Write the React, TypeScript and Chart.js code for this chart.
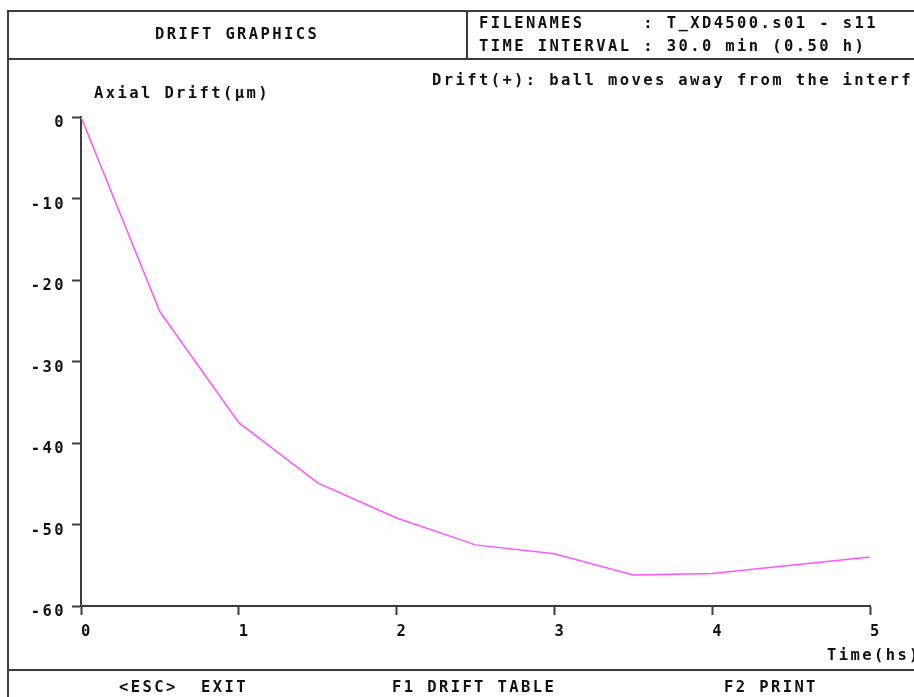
import React, { useEffect, useRef } from "react";
import { Chart, registerables } from "chart.js";

Chart.register(...registerables);

// ---- data ----
const timeHours = [0, 0.5, 1, 1.5, 2, 2.5, 3, 3.5, 4, 4.5, 5];
const axialDrift = [0, -23.9, -37.5, -44.9, -49.2, -52.5, -53.6, -56.2, -56.0, -55.0, -54.0];
const yTickValues = [0, -10, -20, -30, -40, -50, -60];
const xTickValues = [0, 1, 2, 3, 4, 5];

const headerTitle = "DRIFT GRAPHICS";
const headerLine1 = "FILENAMES     : T_XD4500.s01 - s11";
const headerLine2 = "TIME INTERVAL : 30.0 min (0.50 h)";
const yAxisTitle = "Axial Drift(\u03bcm)";
const xAxisTitle = "Time(hs)";
const noteText = "Drift(+): ball moves away from the interf";
const footerItems = ["<ESC>  EXIT", "F1 DRIFT TABLE", "F2 PRINT"];

const FONT_FAMILY = '"DejaVu Sans Mono", "Liberation Mono", monospace';
const FONT_SIZE = 15.5;
const LETTER_SPACING = "2.4px";
const LINE_COLOR = "#3c3c3c";
const TEXT_COLOR = "#111111";

const annotationPlugin = {
  id: "annotations",
  beforeDraw(chart: any) {
    (chart.ctx as any).letterSpacing = LETTER_SPACING;
  },
  afterDraw(chart: any) {
    const ctx = chart.ctx;
    ctx.save();
    (ctx as any).letterSpacing = LETTER_SPACING;
    ctx.font = `bold ${FONT_SIZE}px ${FONT_FAMILY}`;
    ctx.fillStyle = TEXT_COLOR;
    ctx.textAlign = "left";
    ctx.textBaseline = "alphabetic";
    ctx.fillText(yAxisTitle, 94, 98);
    ctx.fillText(noteText, 432, 84.5);
    ctx.fillText(xAxisTitle, 827, 660);
    ctx.restore();
  },
};

function Line({ l, t, w, h }: { l: number; t: number; w: number; h: number }) {
  return (
    <div
      style={{ position: "absolute", left: l, top: t, width: w, height: h, background: LINE_COLOR }}
    />
  );
}

function Txt({ l, t, s }: { l: number; t: number; s: string }) {
  return (
    <div
      style={{
        position: "absolute",
        left: l,
        top: t,
        lineHeight: "15px",
        whiteSpace: "pre",
      }}
    >
      {s}
    </div>
  );
}

export default function App() {
  const canvasRef = useRef<HTMLCanvasElement | null>(null);

  useEffect(() => {
    if (!canvasRef.current) return;
    const points = timeHours.map((t, i) => ({ x: t, y: axialDrift[i] }));
    const tickFont = { family: FONT_FAMILY, size: FONT_SIZE, weight: "bold" as const };
    const chart = new Chart(canvasRef.current, {
      type: "line",
      data: {
        datasets: [
          {
            label: "Axial Drift",
            data: points,
            borderColor: "#ff55ff",
            borderWidth: 1.5,
            pointRadius: 0,
            tension: 0,
            fill: false,
          },
        ],
      },
      options: {
        animation: false,
        responsive: false,
        devicePixelRatio: 1,
        layout: { padding: { top: 117, right: 44, left: 0, bottom: 0 } },
        plugins: {
          legend: { display: false },
          title: { display: false },
          tooltip: { enabled: false },
        },
        scales: {
          x: {
            type: "linear",
            min: 0,
            max: 5,
            afterFit: (s: any) => {
              s.height = 91;
            },
            afterBuildTicks: (s: any) => {
              s.ticks = xTickValues.map((v) => ({ value: v }));
            },
            border: { display: true, color: LINE_COLOR, width: 2 },
            grid: {
              display: true,
              drawOnChartArea: false,
              drawTicks: true,
              tickLength: 9,
              tickWidth: 2,
              tickColor: LINE_COLOR,
            },
            ticks: {
              font: tickFont,
              color: TEXT_COLOR,
              align: "start",
              padding: 8,
              labelOffset: 0,
              maxRotation: 0,
              autoSkip: false,
              callback: (v: any) => String(v),
            },
          },
          y: {
            type: "linear",
            min: -60,
            max: 0,
            afterFit: (s: any) => {
              s.width = 81;
            },
            afterBuildTicks: (s: any) => {
              s.ticks = yTickValues.map((v) => ({ value: v }));
            },
            border: { display: true, color: LINE_COLOR, width: 2 },
            grid: {
              display: true,
              drawOnChartArea: false,
              drawTicks: true,
              tickLength: 9,
              tickWidth: 2,
              tickColor: LINE_COLOR,
            },
            ticks: {
              font: tickFont,
              color: TEXT_COLOR,
              padding: 6,
              labelOffset: 6,
              autoSkip: false,
              callback: (v: any) => String(v),
            },
          },
        },
      },
      plugins: [annotationPlugin],
    });
    return () => chart.destroy();
  }, []);

  return (
    <div
      style={{
        position: "fixed",
        left: 0,
        top: 0,
        width: 914,
        height: 697,
        overflow: "hidden",
        background: "#ffffff",
        fontFamily: FONT_FAMILY,
        fontWeight: "bold",
        fontSize: FONT_SIZE,
        letterSpacing: LETTER_SPACING,
        color: TEXT_COLOR,
      }}
    >
      <canvas
        ref={canvasRef}
        width={914}
        height={697}
        style={{ position: "absolute", left: 0, top: 0, width: 914, height: 697 }}
      />
      <Line l={7} t={10} w={907} h={2} />
      <Line l={7} t={10} w={2} h={687} />
      <Line l={466} t={10} w={2} h={49} />
      <Line l={7} t={58} w={907} h={2} />
      <Line l={7} t={669} w={907} h={2} />
      <Txt l={155} t={26.8} s={headerTitle} />
      <Txt l={479} t={15.6} s={headerLine1} />
      <Txt l={479} t={39.3} s={headerLine2} />
      <Txt l={119} t={680} s={footerItems[0]} />
      <Txt l={392} t={680} s={footerItems[1]} />
      <Txt l={724} t={680} s={footerItems[2]} />
    </div>
  );
}
